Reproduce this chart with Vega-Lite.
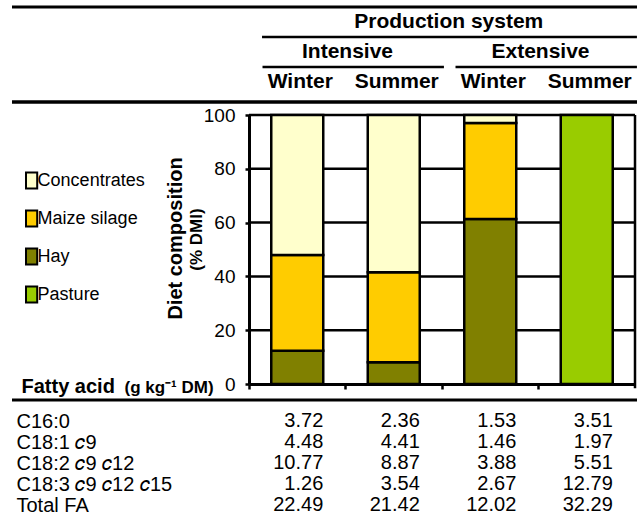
{
  "$schema": "https://vega.github.io/schema/vega-lite/v6.json",
  "background": "white",
  "padding": {"left": 10, "top": 0, "right": 5, "bottom": 0},
  "config": {"view": {"stroke": null}, "font": "Liberation Sans"},
  "datasets": {
    "bars": [
      {"sys": "IW", "type": "Hay", "pct": 12.4, "k": 1},
      {"sys": "IW", "type": "Maize silage", "pct": 35.6, "k": 2},
      {"sys": "IW", "type": "Concentrates", "pct": 52.0, "k": 3},
      {"sys": "IS", "type": "Hay", "pct": 8.1, "k": 1},
      {"sys": "IS", "type": "Maize silage", "pct": 33.4, "k": 2},
      {"sys": "IS", "type": "Concentrates", "pct": 58.5, "k": 3},
      {"sys": "EW", "type": "Hay", "pct": 61.3, "k": 1},
      {"sys": "EW", "type": "Maize silage", "pct": 35.7, "k": 2},
      {"sys": "EW", "type": "Concentrates", "pct": 3.0, "k": 3},
      {"sys": "ES", "type": "Pasture", "pct": 100, "k": 1}
    ],
    "grid": [{"g": 20}, {"g": 40}, {"g": 60}, {"g": 80}, {"g": 100}],
    "hfull": [{"row": "top"}],
    "hsysline": [{"row": "line1", "from": "IW", "to": "ES"}],
    "hgrpline": [{"row": "line2", "from": "IW", "to": "IS"}, {"row": "line2", "from": "EW", "to": "ES"}],
    "hsys": [{"row": "system", "col": "EW", "label": "Production system"}],
    "hgrp": [{"row": "group", "col": "IW", "label": "Intensive"}, {"row": "group", "col": "EW", "label": "Extensive"}],
    "hseason": [
      {"row": "season", "col": "IW", "label": "Winter"},
      {"row": "season", "col": "IS", "label": "Summer"},
      {"row": "season", "col": "EW", "label": "Winter"},
      {"row": "season", "col": "ES", "label": "Summer"}
    ],
    "tline": [{"fa": "rule"}],
    "fa": [
      {"fa": "C16:0", "col": "IW", "v": 3.72}, {"fa": "C16:0", "col": "IS", "v": 2.36}, {"fa": "C16:0", "col": "EW", "v": 1.53}, {"fa": "C16:0", "col": "ES", "v": 3.51},
      {"fa": "C18:1 𝑐9", "col": "IW", "v": 4.48}, {"fa": "C18:1 𝑐9", "col": "IS", "v": 4.41}, {"fa": "C18:1 𝑐9", "col": "EW", "v": 1.46}, {"fa": "C18:1 𝑐9", "col": "ES", "v": 1.97},
      {"fa": "C18:2 𝑐9 𝑐12", "col": "IW", "v": 10.77}, {"fa": "C18:2 𝑐9 𝑐12", "col": "IS", "v": 8.87}, {"fa": "C18:2 𝑐9 𝑐12", "col": "EW", "v": 3.88}, {"fa": "C18:2 𝑐9 𝑐12", "col": "ES", "v": 5.51},
      {"fa": "C18:3 𝑐9 𝑐12 𝑐15", "col": "IW", "v": 1.26}, {"fa": "C18:3 𝑐9 𝑐12 𝑐15", "col": "IS", "v": 3.54}, {"fa": "C18:3 𝑐9 𝑐12 𝑐15", "col": "EW", "v": 2.67}, {"fa": "C18:3 𝑐9 𝑐12 𝑐15", "col": "ES", "v": 12.79},
      {"fa": "Total FA", "col": "IW", "v": 22.49}, {"fa": "Total FA", "col": "IS", "v": 21.42}, {"fa": "Total FA", "col": "EW", "v": 12.02}, {"fa": "Total FA", "col": "ES", "v": 32.29}
    ]
  },
  "spacing": 0,
  "bounds": "flush",
  "resolve": {"scale": {"x": "independent", "y": "independent", "color": "independent"}, "legend": {"color": "independent"}},
  "vconcat": [
    {
      "width": 625,
      "height": 115,
      "layer": [
        {
          "data": {"name": "hfull"},
          "mark": {"type": "rule", "strokeWidth": 3, "color": "black"},
          "encoding": {"y": {"field": "row", "type": "nominal", "axis": null, "scale": {"type": "point", "domain": ["top", "system", "line1", "group", "line2", "season"], "range": [7, 82], "padding": 0}}}
        },
        {
          "data": {"name": "hsysline"},
          "mark": {"type": "rule", "strokeWidth": 2.5, "color": "black"},
          "encoding": {
            "x": {"field": "from", "type": "nominal", "axis": null, "bandPosition": 0.135, "scale": {"type": "band", "domain": ["IW", "IS", "EW", "ES"], "range": [237, 623], "paddingInner": 0, "paddingOuter": 0}},
            "x2": {"field": "to", "bandPosition": 1.02},
            "y": {"field": "row", "type": "nominal", "axis": null, "scale": {"type": "point", "domain": ["top", "system", "line1", "group", "line2", "season"], "range": [7, 82], "padding": 0}}
          }
        },
        {
          "data": {"name": "hgrpline"},
          "mark": {"type": "rule", "strokeWidth": 2.5, "color": "black"},
          "encoding": {
            "x": {"field": "from", "type": "nominal", "axis": null, "bandPosition": 0.14, "scale": {"type": "band", "domain": ["IW", "IS", "EW", "ES"], "range": [237, 623], "paddingInner": 0, "paddingOuter": 0}},
            "x2": {"field": "to", "bandPosition": 1.02},
            "y": {"field": "row", "type": "nominal", "axis": null, "scale": {"type": "point", "domain": ["top", "system", "line1", "group", "line2", "season"], "range": [7, 82], "padding": 0}}
          }
        },
        {
          "data": {"name": "hsys"},
          "mark": {"type": "text", "fontSize": 21, "fontWeight": "bold", "font": "Liberation Sans", "color": "black", "align": "center", "baseline": "middle"},
          "encoding": {
            "x": {"field": "col", "type": "nominal", "axis": null, "bandPosition": 0.07, "scale": {"type": "band", "domain": ["IW", "IS", "EW", "ES"], "range": [237, 623], "paddingInner": 0, "paddingOuter": 0}},
            "y": {"field": "row", "type": "nominal", "axis": null, "scale": {"type": "point", "domain": ["top", "system", "line1", "group", "line2", "season"], "range": [7, 82], "padding": 0}},
            "text": {"field": "label"}
          }
        },
        {
          "data": {"name": "hgrp"},
          "mark": {"type": "text", "fontSize": 21, "fontWeight": "bold", "font": "Liberation Sans", "color": "black", "align": "center", "baseline": "middle", "dx": 2},
          "encoding": {
            "x": {"field": "col", "type": "nominal", "axis": null, "bandPosition": 1, "scale": {"type": "band", "domain": ["IW", "IS", "EW", "ES"], "range": [237, 623], "paddingInner": 0, "paddingOuter": 0}},
            "y": {"field": "row", "type": "nominal", "axis": null, "scale": {"type": "point", "domain": ["top", "system", "line1", "group", "line2", "season"], "range": [7, 82], "padding": 0}},
            "text": {"field": "label"}
          }
        },
        {
          "data": {"name": "hseason"},
          "mark": {"type": "text", "fontSize": 21, "fontWeight": "bold", "font": "Liberation Sans", "color": "black", "align": "center", "baseline": "middle", "dx": 3},
          "encoding": {
            "x": {"field": "col", "type": "nominal", "axis": null, "bandPosition": 0.5, "scale": {"type": "band", "domain": ["IW", "IS", "EW", "ES"], "range": [237, 623], "paddingInner": 0, "paddingOuter": 0}},
            "y": {"field": "row", "type": "nominal", "axis": null, "scale": {"type": "point", "domain": ["top", "system", "line1", "group", "line2", "season"], "range": [7, 82], "padding": 0}},
            "text": {"field": "label"}
          }
        }
      ]
    },
    {
      "width": 625,
      "height": 269,
      "resolve": {"axis": {"x": "independent", "y": "independent"}},
      "layer": [
        {
          "data": {"name": "grid"},
          "mark": {"type": "rule", "strokeWidth": 2.5, "color": "black"},
          "encoding": {
            "x": {"datum": "IW", "type": "nominal", "bandPosition": 0, "scale": {"type": "band", "domain": ["IW", "IS", "EW", "ES"], "range": [237, 623], "paddingInner": 0, "paddingOuter": 0},
              "axis": {"orient": "bottom", "domain": false, "ticks": false, "labels": false, "grid": false, "title": "(g kg⁻¹ DM)", "titleX": 112, "titleY": 8, "titleAlign": "left", "titleBaseline": "alphabetic", "titleFont": "Liberation Sans", "titleFontSize": 17, "titleFontWeight": "bold", "titleColor": "black", "titlePadding": 0}},
            "x2": {"datum": "ES", "bandPosition": 1},
            "y": {"field": "g", "type": "quantitative", "scale": {"domain": [0, 100], "nice": false, "zero": true},
              "axis": {"orient": "left", "offset": -237, "domain": false, "ticks": false, "labels": false, "grid": false, "title": "(% DMI)", "titleFont": "Liberation Sans", "titleFontSize": 17, "titleFontWeight": "bold", "titleColor": "black", "titlePadding": 44, "titleY": 124}}
          }
        },
        {
          "data": {"name": "tline"},
          "mark": {"type": "rule", "strokeWidth": 2.5, "color": "black"},
          "encoding": {
            "x": {"datum": "ES", "type": "nominal", "bandPosition": 1, "axis": null, "scale": {"type": "band", "domain": ["IW", "IS", "EW", "ES"], "range": [237, 623], "paddingInner": 0, "paddingOuter": 0}},
            "y": {"datum": 100, "type": "quantitative", "axis": null, "scale": {"domain": [0, 100], "nice": false, "zero": true}},
            "y2": {"datum": -1.6}
          }
        },
        {
          "data": {"name": "tline"},
          "mark": {"type": "rule", "strokeWidth": 3.5, "color": "black"},
          "encoding": {
            "y": {"datum": 104.83, "type": "quantitative", "axis": null, "scale": {"domain": [0, 100], "nice": false, "zero": true}}
          }
        },
        {
          "data": {"name": "bars"},
          "mark": {"type": "bar", "size": 52, "stroke": "black", "strokeWidth": 2.5},
          "encoding": {
            "x": {"field": "sys", "type": "nominal", "scale": {"type": "band", "domain": ["IW", "IS", "EW", "ES"], "range": [237, 623], "paddingInner": 0, "paddingOuter": 0},
              "axis": {"orient": "bottom", "bandPosition": 0, "labels": false, "ticks": true, "tickSize": 5, "tickWidth": 2.5, "tickColor": "black", "domain": true, "domainWidth": 3, "domainColor": "black", "grid": false,
                "title": "Fatty acid", "titleX": 9, "titleY": 8, "titleAlign": "left", "titleBaseline": "alphabetic", "titleFont": "Liberation Sans", "titleFontSize": 20, "titleFontWeight": "bold", "titleColor": "black", "titlePadding": 0}},
            "y": {"field": "pct", "type": "quantitative", "stack": "zero", "scale": {"domain": [0, 100], "nice": false, "zero": true},
              "axis": {"orient": "left", "offset": -237, "values": [0, 20, 40, 60, 80, 100], "grid": false, "tickSize": 4, "tickWidth": 2.5, "tickColor": "black", "domainWidth": 3, "domainColor": "black",
                "labelFont": "Liberation Sans", "labelFontSize": 19, "labelColor": "black", "labelPadding": 10,
                "title": "Diet composition", "titleFont": "Liberation Sans", "titleFontSize": 20, "titleFontWeight": "bold", "titleColor": "black", "titlePadding": 18, "titleY": 123}},
            "color": {"field": "type", "type": "nominal",
              "scale": {"domain": ["Concentrates", "Maize silage", "Hay", "Pasture"], "range": ["#FFFFCC", "#FFCC00", "#808000", "#99CC00"]},
              "legend": {"orient": "none", "legendX": 10.6, "legendY": 56.5, "title": null, "padding": 0, "symbolType": "M-0.7,-1H0.7V1H-0.7Z", "symbolSize": 256, "symbolStrokeColor": "black", "symbolStrokeWidth": 2, "labelFont": "Liberation Sans", "labelFontSize": 18, "labelColor": "black", "labelOffset": -3, "rowPadding": 14}},
            "order": {"field": "k"}
          }
        }
      ]
    },
    {
      "width": 625,
      "height": 131,
      "layer": [
        {
          "data": {"name": "fa"},
          "mark": {"type": "text", "font": "Liberation Sans", "fontSize": 20, "color": "black", "align": "right", "baseline": "middle"},
          "encoding": {
            "x": {"field": "col", "type": "nominal", "axis": null, "bandPosition": 0.77, "scale": {"type": "band", "domain": ["IW", "IS", "EW", "ES"], "range": [237, 623], "paddingInner": 0, "paddingOuter": 0}},
            "y": {"field": "fa", "type": "nominal", "scale": {"type": "point", "domain": ["rule", "C16:0", "C18:1 𝑐9", "C18:2 𝑐9 𝑐12", "C18:3 𝑐9 𝑐12 𝑐15", "Total FA"], "range": [16, 121], "padding": 0},
              "axis": {"orient": "left", "values": ["C16:0", "C18:1 𝑐9", "C18:2 𝑐9 𝑐12", "C18:3 𝑐9 𝑐12 𝑐15", "Total FA"], "domain": false, "ticks": false, "tickSize": 0, "grid": false, "labelAlign": "left", "labelBaseline": "middle", "labelPadding": -4, "labelOverlap": false, "labelBound": false, "labelFont": "Liberation Sans", "labelFontSize": 20, "labelColor": "black", "title": null}},
            "text": {"field": "v", "type": "quantitative", "format": ".2f"}
          }
        },
        {
          "data": {"name": "tline"},
          "mark": {"type": "rule", "strokeWidth": 3, "color": "black"},
          "encoding": {
            "y": {"field": "fa", "type": "nominal", "scale": {"type": "point", "domain": ["rule", "C16:0", "C18:1 𝑐9", "C18:2 𝑐9 𝑐12", "C18:3 𝑐9 𝑐12 𝑐15", "Total FA"], "range": [16, 121], "padding": 0},
              "axis": {"orient": "left", "values": ["C16:0", "C18:1 𝑐9", "C18:2 𝑐9 𝑐12", "C18:3 𝑐9 𝑐12 𝑐15", "Total FA"], "domain": false, "ticks": false, "tickSize": 0, "grid": false, "labelAlign": "left", "labelBaseline": "middle", "labelPadding": -4, "labelOverlap": false, "labelBound": false, "labelFont": "Liberation Sans", "labelFontSize": 20, "labelColor": "black", "title": null}}
          }
        }
      ]
    }
  ]
}
